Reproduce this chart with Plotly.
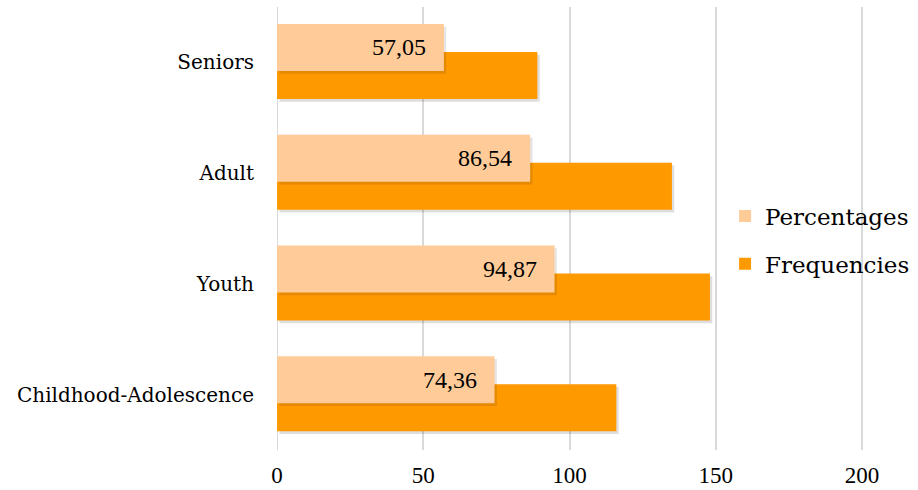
import plotly.graph_objects as go

categories = ["Childhood-Adolescence", "Youth", "Adult", "Seniors"]
percentages = [74.36, 94.87, 86.54, 57.05]
frequencies = [116, 148, 135, 89]
x_ticks = [0, 50, 100, 150, 200]

LIGHT = "#FFCC99"
ORANGE = "#FF9900"
BAR_W = 0.424
FREQ_OFF = -0.33
PCT_OFF = -0.077
SH = 0.025  # shadow vertical shift (data units)

fig = go.Figure()

# shadows
fig.add_trace(go.Bar(y=categories, x=frequencies, base=0.8, orientation="h",
                     width=BAR_W, offset=FREQ_OFF - SH,
                     marker=dict(color="rgba(0,0,0,0.13)", line=dict(width=0)),
                     showlegend=False, hoverinfo="skip"))
fig.add_trace(go.Bar(y=categories, x=frequencies, orientation="h",
                     width=BAR_W, offset=FREQ_OFF, name="Frequencies",
                     legendgroup="f",
                     marker=dict(color=ORANGE, line=dict(width=0)), legendrank=2))
fig.add_trace(go.Bar(y=categories, x=percentages, base=0.8, orientation="h",
                     width=BAR_W, offset=PCT_OFF - SH,
                     marker=dict(color="rgba(0,0,0,0.10)", line=dict(width=0)),
                     showlegend=False, hoverinfo="skip"))
fig.add_trace(go.Bar(y=categories, x=percentages, orientation="h",
                     width=BAR_W, offset=PCT_OFF, name="Percentages",
                     legendgroup="p",
                     marker=dict(color=LIGHT, line=dict(width=0)), legendrank=1))

for c, v in zip(categories, percentages):
    fig.add_annotation(x=v, y=c, yshift=(PCT_OFF + BAR_W / 2) * 110.75,
                       text=f"{v:.2f}".replace(".", ","), showarrow=False,
                       xanchor="right", xshift=-16,
                       font=dict(family="Liberation Serif", size=24, color="black"))

fig.update_layout(
    width=918, height=490,
    margin=dict(l=277, r=53, t=7, b=40, autoexpand=False),
    barmode="overlay",
    plot_bgcolor="white", paper_bgcolor="white",
    showlegend=True,
    legend=dict(x=0.762, y=0.474, xanchor="left", yanchor="middle",
                font=dict(family="DejaVu Serif", size=23, color="black"),
                bgcolor="rgba(255,255,255,0)", itemwidth=30,
                tracegroupgap=15),
    font=dict(family="DejaVu Serif", color="black"),
)
fig.update_xaxes(range=[0, 201], tickvals=x_ticks, showgrid=True,
                 gridcolor="#D9D9D9", gridwidth=2, zeroline=False,
                 showline=False, ticks="", ticklabelstandoff=9, automargin=False,
                 tickfont=dict(family="Liberation Serif", size=23, color="black"))
fig.update_yaxes(categoryorder="array", categoryarray=categories,
                 showgrid=False, zeroline=False, showline=False, ticks="",
                 ticklabelstandoff=22, automargin=False,
                 tickfont=dict(family="DejaVu Serif", size=20, color="black"))
fig.add_vline(x=0, line=dict(color="#D9D9D9", width=2), layer="below")

fig.write_html("out.html")
